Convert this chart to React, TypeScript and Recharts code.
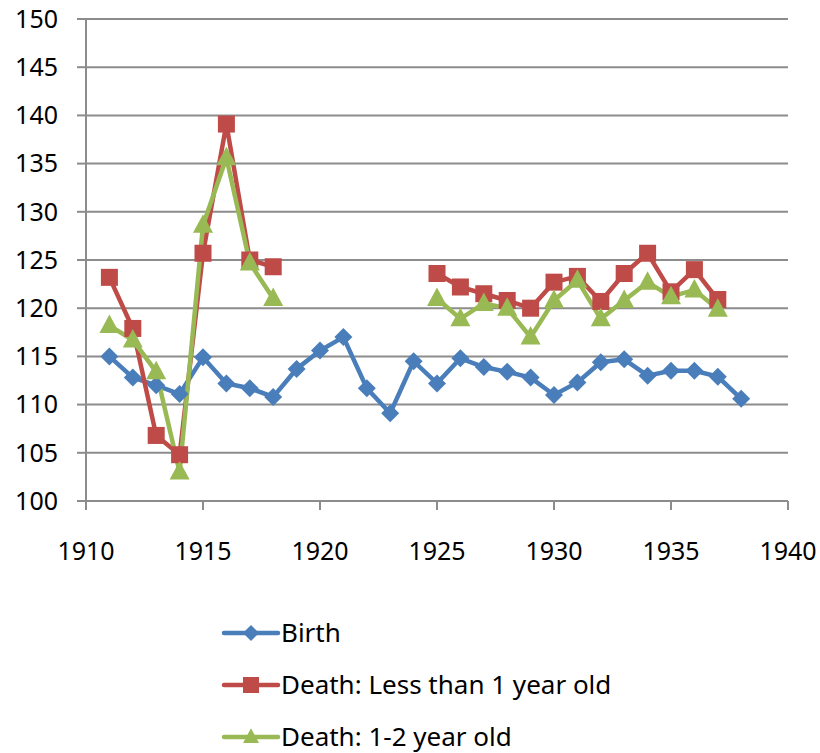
import React from 'react';
import { LineChart, Line, XAxis, YAxis, CartesianGrid, Legend } from 'recharts';

const years = [
  1911, 1912, 1913, 1914, 1915, 1916, 1917, 1918, 1919, 1920, 1921, 1922, 1923, 1924,
  1925, 1926, 1927, 1928, 1929, 1930, 1931, 1932, 1933, 1934, 1935, 1936, 1937, 1938,
];

const birth = [
  115.0, 112.8, 112.0, 111.1, 114.9, 112.2, 111.7, 110.8, 113.7, 115.6, 117.0, 111.7, 109.1, 114.5,
  112.2, 114.8, 113.9, 113.4, 112.8, 111.0, 112.3, 114.4, 114.7, 113.0, 113.5, 113.5, 112.9, 110.6,
];

const deathUnder1 = [
  123.2, 117.9, 106.8, 104.8, 125.7, 139.1, 125.0, 124.3, null, null, null, null, null, null,
  123.6, 122.2, 121.5, 120.8, 120.0, 122.7, 123.3, 120.7, 123.6, 125.7, 121.7, 124.0, 120.9, null,
];

const death1to2 = [
  118.2, 116.7, 113.4, 103.0, 128.6, 135.6, 124.7, 121.0, null, null, null, null, null, null,
  121.0, 118.9, 120.5, 120.0, 117.0, 120.8, 122.9, 118.9, 120.8, 122.7, 121.2, 121.9, 119.9, null,
];

const xTicks = [1910, 1915, 1920, 1925, 1930, 1935, 1940];
const yTicks = [100, 105, 110, 115, 120, 125, 130, 135, 140, 145, 150];

const data = years.map((y, i) => ({
  year: y,
  birth: birth[i],
  under1: deathUnder1[i],
  oneTo2: death1to2[i],
}));

const BLUE = '#4A7EBB';
const RED = '#BE4B48';
const GREEN = '#98B954';
const GRID = '#8C8C8C';
const FONT = '"Noto Sans", "Open Sans", sans-serif';

const Diamond = ({ cx, cy, fill, r = 9 }: any) => (
  <path d={`M${cx},${cy - r}L${cx + r},${cy}L${cx},${cy + r}L${cx - r},${cy}Z`} fill={fill} />
);
const Square = ({ cx, cy, fill, r = 8.5 }: any) => (
  <rect x={cx - r} y={cy - r} width={r * 2} height={r * 2} fill={fill} />
);
const Triangle = ({ cx, cy, fill, r = 10 }: any) => (
  <path d={`M${cx},${cy - r * 1.1}L${cx + r},${cy + r * 0.75}L${cx - r},${cy + r * 0.75}Z`} fill={fill} />
);

const makeDot = (Shape: any, fill: string) => (props: any) => {
  const { cx, cy, index, value } = props;
  if (value == null || cx == null || cy == null) return <g key={`d-${index}`} />;
  return <Shape key={`d-${index}`} cx={cx} cy={cy} fill={fill} />;
};

const legendItems = [
  { label: 'Birth', color: BLUE, Shape: Diamond },
  { label: 'Death: Less than 1 year old', color: RED, Shape: Square },
  { label: 'Death: 1-2 year old', color: GREEN, Shape: Triangle },
];

const CustomLegend = () => (
  <svg width={520} height={160} style={{ overflow: 'visible' }}>
    {legendItems.map((it, i) => {
      const cy = 40 + i * 52;
      return (
        <g key={it.label}>
          <line x1={4} x2={58} y1={cy} y2={cy} stroke={it.color} strokeWidth={4.5} strokeLinecap="round" />
          <it.Shape cx={31} cy={cy} fill={it.color} r={8} />
          <text x={61} y={cy} dy="0.36em" fontSize={26} fontFamily={FONT} fill="#000">
            {it.label}
          </text>
        </g>
      );
    })}
  </svg>
);

export default function App() {
  return (
    <div style={{ position: 'absolute', left: 0, top: 0, width: 820, height: 753, background: '#fff' }}>
      <LineChart width={820} height={753} data={data} margin={{ top: 19, right: 32, left: 0, bottom: 0 }}>
        <CartesianGrid vertical={false} stroke={GRID} strokeWidth={2} />
        <XAxis
          dataKey="year"
          type="number"
          domain={[1910, 1940]}
          ticks={xTicks}
          height={92}
          tickSize={9}
          tickMargin={32}
          stroke={GRID}
          strokeWidth={2}
          tick={{ fill: '#000', fontSize: 25, fontFamily: FONT }}
        />
        <YAxis
          type="number"
          domain={[100, 150]}
          ticks={yTicks}
          width={86}
          tickSize={9}
          tickMargin={19}
          stroke={GRID}
          strokeWidth={2}
          tick={{ fill: '#000', fontSize: 25, fontFamily: FONT }}
        />
        <Legend
          verticalAlign="bottom"
          align="left"
          height={160}
          wrapperStyle={{ left: 220 }}
          content={() => <CustomLegend />}
        />
        <Line
          dataKey="birth"
          stroke={BLUE}
          strokeWidth={4.5}
          dot={makeDot(Diamond, BLUE)}
          activeDot={false}
          isAnimationActive={false}
        />
        <Line
          dataKey="under1"
          stroke={RED}
          strokeWidth={4.5}
          dot={makeDot(Square, RED)}
          activeDot={false}
          isAnimationActive={false}
        />
        <Line
          dataKey="oneTo2"
          stroke={GREEN}
          strokeWidth={4.5}
          dot={makeDot(Triangle, GREEN)}
          activeDot={false}
          isAnimationActive={false}
        />
      </LineChart>
    </div>
  );
}
